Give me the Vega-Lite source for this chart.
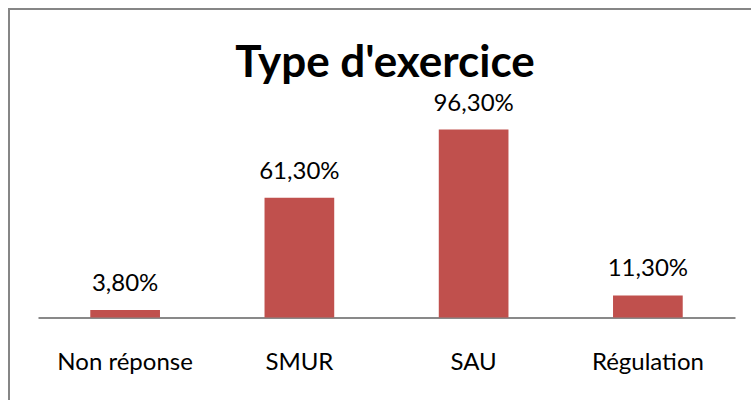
{
  "$schema": "https://vega.github.io/schema/vega-lite/v6.json",
  "autosize": {"type": "none"},
  "width": 752,
  "height": 420,
  "padding": {"left": 9, "top": 9, "right": 0, "bottom": 0},
  "background": "white",
  "title": {
    "text": "Type d'exercice",
    "font": "Lato",
    "fontSize": 44,
    "fontWeight": "bold",
    "color": "black",
    "anchor": "middle",
    "offset": 0,
    "baseline": "alphabetic",
    "dy": 112
  },
  "data": {
    "values": [
      {"type": "Non réponse", "pct": 0.038},
      {"type": "SMUR", "pct": 0.613},
      {"type": "SAU", "pct": 0.963},
      {"type": "Régulation", "pct": 0.113}
    ]
  },
  "encoding": {
    "x": {
      "field": "type",
      "type": "nominal",
      "sort": null,
      "scale": {"range": [29, 726], "paddingInner": 0.6, "paddingOuter": 0.3},
      "axis": {
        "orient": "bottom",
        "offset": -111.5,
        "title": null,
        "ticks": false,
        "tickSize": 0,
        "labelPadding": 33,
        "labelFont": "Lato",
        "labelFontSize": 24,
        "labelColor": "black",
        "labelAngle": 0,
        "domainColor": "#898989",
        "domainWidth": 2,
        "grid": false
      }
    },
    "y": {
      "field": "pct",
      "type": "quantitative",
      "scale": {"domain": [0, 1], "range": [308.5, 113.3]},
      "axis": null
    }
  },
  "layer": [
    {"mark": {"type": "bar", "color": "#C0504D"}},
    {
      "mark": {"type": "text", "font": "Lato", "fontSize": 24, "baseline": "alphabetic", "dy": -19, "color": "black"},
      "encoding": {"text": {"field": "pct", "type": "quantitative", "format": ".2%"}}
    }
  ],
  "config": {
    "view": {"stroke": "#868686", "strokeWidth": 2},
    "locale": {
      "number": {"decimal": ",", "thousands": " ", "grouping": [3], "currency": ["", " €"]}
    }
  }
}
